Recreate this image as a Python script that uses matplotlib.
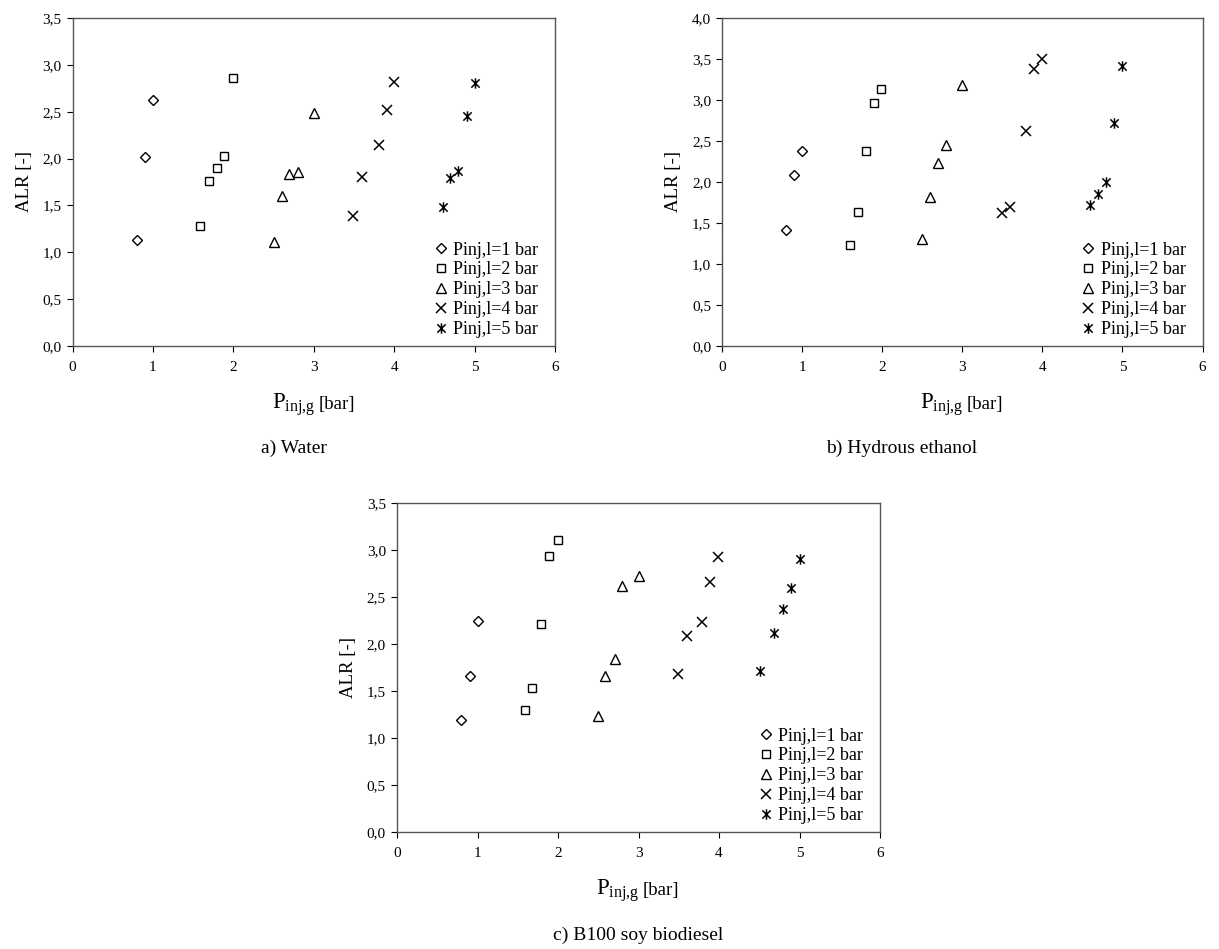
import matplotlib
matplotlib.use("Agg")
import matplotlib.pyplot as plt
from matplotlib.path import Path
from matplotlib.ticker import FuncFormatter, MultipleLocator

plt.rcParams['font.family'] = ['Liberation Serif', 'DejaVu Serif']
plt.rcParams['mathtext.fontset'] = 'custom'
plt.rcParams['mathtext.rm'] = 'Liberation Serif'

series_labels = ["Pinj,l=1 bar", "Pinj,l=2 bar", "Pinj,l=3 bar", "Pinj,l=4 bar", "Pinj,l=5 bar"]

# a) Water
water_x = [
    [0.80, 0.90, 1.00],
    [1.59, 1.70, 1.80, 1.89, 2.00],
    [2.50, 2.60, 2.69, 2.80, 3.00],
    [3.49, 3.60, 3.81, 3.91, 4.00],
    [4.61, 4.69, 4.79, 4.90, 5.00],
]
water_y = [
    [1.13, 2.02, 2.63],
    [1.28, 1.76, 1.90, 2.03, 2.86],
    [1.11, 1.60, 1.84, 1.86, 2.49],
    [1.39, 1.80, 2.15, 2.52, 2.82],
    [1.48, 1.79, 1.87, 2.45, 2.81],
]

# b) Hydrous ethanol
ethanol_x = [
    [0.79, 0.90, 1.00],
    [1.60, 1.69, 1.80, 1.89, 1.98],
    [2.49, 2.60, 2.69, 2.80, 3.00],
    [3.50, 3.60, 3.80, 3.89, 4.00],
    [4.59, 4.69, 4.79, 4.89, 5.00],
]
ethanol_y = [
    [1.42, 2.09, 2.38],
    [1.23, 1.64, 2.38, 2.96, 3.13],
    [1.31, 1.82, 2.23, 2.45, 3.18],
    [1.62, 1.69, 2.62, 3.38, 3.50],
    [1.72, 1.85, 2.00, 2.72, 3.42],
]

# c) B100 soy biodiesel
biodiesel_x = [
    [0.79, 0.91, 1.00],
    [1.59, 1.68, 1.79, 1.89, 2.00],
    [2.50, 2.59, 2.71, 2.80, 3.00],
    [3.49, 3.60, 3.79, 3.89, 3.99],
    [4.51, 4.68, 4.79, 4.89, 5.00],
]
biodiesel_y = [
    [1.19, 1.66, 2.25],
    [1.30, 1.53, 2.21, 2.94, 3.11],
    [1.23, 1.66, 1.84, 2.62, 2.72],
    [1.68, 2.09, 2.23, 2.66, 2.93],
    [1.71, 2.12, 2.37, 2.60, 2.90],
]

captions = ["a) Water", "b) Hydrous ethanol", "c) B100 soy biodiesel"]
ymaxs = [3.5, 4.0, 3.5]

star = Path([(-1, -1), (1, 1), (-1, 1), (1, -1), (0, -1.25), (0, 1.25)],
            [Path.MOVETO, Path.LINETO, Path.MOVETO, Path.LINETO, Path.MOVETO, Path.LINETO])
markers = [dict(marker='D', ms=5.0, mfc='white', mec='black', mew=1.0),
           dict(marker='s', ms=6.0, mfc='white', mec='black', mew=1.0),
           dict(marker='^', ms=7.0, mfc='white', mec='black', mew=1.0),
           dict(marker='x', ms=7.0, mfc='none', mec='black', mew=1.1),
           dict(marker=star, ms=7.5, mfc='none', mec='black', mew=1.1)]

W, H = 1219, 949
fig = plt.figure(figsize=(W / 100, H / 100), dpi=100)

boxes = [(72.5, 555, 18, 346), (722.3, 1202.5, 18, 346), (397, 880, 503, 832)]
datasets = [(water_x, water_y), (ethanol_x, ethanol_y), (biodiesel_x, biodiesel_y)]
cap_pos = [(294, 448), (902, 448), (638, 935)]

fmt = FuncFormatter(lambda v, p: f"{v:.1f}".replace('.', ','))

for (l, r, t, b), (xs, ys), ymax, cap, (cx, cy) in zip(boxes, datasets, ymaxs, captions, cap_pos):
    ax = fig.add_axes([l / W, 1 - b / H, (r - l) / W, (b - t) / H])
    for xv, yv, lab, mk in zip(xs, ys, series_labels, markers):
        ax.plot(xv, yv, ls='none', label=lab, **mk)
    ax.set_xlim(0, 6)
    ax.set_ylim(0, ymax)
    ax.xaxis.set_major_locator(MultipleLocator(1))
    ax.yaxis.set_major_locator(MultipleLocator(0.5))
    ax.yaxis.set_major_formatter(fmt)
    ax.tick_params(direction='out', length=4, width=0.8, labelsize=11, pad=4, colors='black')
    ax.tick_params(axis='x', pad=7)
    for s in ax.spines.values():
        s.set_color('#555555')
        s.set_linewidth(1.0)
    ax.set_ylabel("ALR [-]", fontsize=13.5, labelpad=7)
    ax.legend(loc='lower right', frameon=False, fontsize=13, handlelength=0.8,
              handletextpad=0.3, labelspacing=0.16, borderaxespad=0.2,
              bbox_to_anchor=(1.0 - 6 / (r - l), -3 / (b - t)))
    # x label: large P with subscript, smaller "[bar]"
    base_y = H - (b + 63)
    xl = (l + r) / 2 - 42
    t1 = fig.text(xl / W, base_y / H, r"$\mathregular{P_{inj{,}g}}$", fontsize=16.5,
                  ha='left', va='baseline')
    fig.canvas.draw()
    bb = t1.get_window_extent()
    fig.text((bb.x1 + 3) / W, base_y / H, "[bar]", fontsize=13.5, ha='left', va='baseline')
    fig.text(cx / W, 1 - cy / H, cap, fontsize=14, ha='center', va='center')

fig.savefig("out.png", dpi=100)
